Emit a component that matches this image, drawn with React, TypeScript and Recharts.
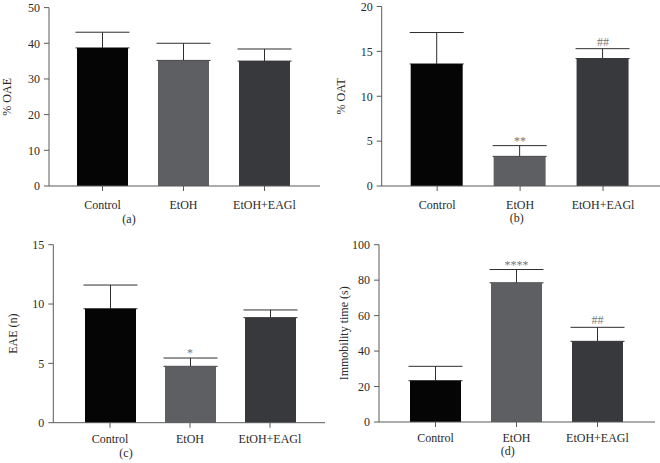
import React from "react";
import { BarChart, Bar, XAxis, YAxis, Cell, ErrorBar, ReferenceDot } from "recharts";

const groups = ["Control", "EtOH", "EtOH+EAGl"];
const barColors = ["#050505", "#5e5f63", "#38393c"];

// (a) % OAE
const oae = [38.7, 35.2, 35.0];
const oaeErr = [4.4, 4.8, 3.4];
const oaeSig = ["", "", ""];
const oaeTicks = [0, 10, 20, 30, 40, 50];

// (b) % OAT
const oat = [13.6, 3.3, 14.2];
const oatErr = [3.5, 1.2, 1.1];
const oatSig = ["", "**", "##"];
const oatTicks = [0, 5, 10, 15, 20];

// (c) EAE (n)
const eae = [9.6, 4.75, 8.85];
const eaeErr = [2.0, 0.7, 0.65];
const eaeSig = ["", "*", ""];
const eaeTicks = [0, 5, 10, 15];

// (d) Immobility time (s)
const immobility = [23.3, 78.5, 45.5];
const immobilityErr = [8.1, 7.5, 7.9];
const immobilitySig = ["", "****", "##"];
const immobilityTicks = [0, 20, 40, 60, 80, 100];

const axisColor = "#5a5a5a";
const textColor = "#2a2a2a";
const font = "'Liberation Serif', 'Times New Roman', serif";

type PanelProps = {
  left: number;
  top: number;
  width: number;
  height: number;
  axisW: number;
  mTop: number;
  mRight: number;
  xAxisH: number;
  xTickMargin: number;
  pad: { left: number; right: number };
  barSize: number;
  values: number[];
  errors: number[];
  sig: string[];
  ticks: number[];
  yLabel: string;
  yLabelX: number;
};

const yLabelContent = (text: string, x: number) => (props: any) => {
  const vb = props.viewBox || {};
  const cy = (vb.y ?? 0) + (vb.height ?? 0) / 2;
  return (
    <text
      x={x}
      y={cy}
      transform={`rotate(-90 ${x} ${cy})`}
      textAnchor="middle"
      dominantBaseline="central"
      fill={textColor}
      fontSize={12}
      fontFamily={font}
    >
      {text}
    </text>
  );
};

function Panel(p: PanelProps) {
  const rows = groups.map((g, i) => ({ name: g, value: p.values[i], err: [0, p.errors[i]] }));
  const tickStyle = { fill: textColor, fontSize: 12, fontFamily: font };
  return (
    <div style={{ position: "absolute", left: p.left, top: p.top }}>
      <BarChart
        width={p.width}
        height={p.height}
        data={rows}
        margin={{ top: p.mTop, right: p.mRight, left: 0, bottom: 0 }}
        style={{ overflow: "visible" }}
      >
        <XAxis
          dataKey="name"
          height={p.xAxisH}
          padding={p.pad}
          tick={tickStyle}
          tickSize={5}
          tickMargin={p.xTickMargin}
          stroke={axisColor}
          axisLine={{ stroke: axisColor }}
          tickLine={{ stroke: axisColor }}
        />
        <YAxis
          width={p.axisW}
          domain={[p.ticks[0], p.ticks[p.ticks.length - 1]]}
          ticks={p.ticks}
          interval={0}
          tick={tickStyle}
          tickSize={5}
          tickMargin={4}
          stroke={axisColor}
          axisLine={{ stroke: axisColor }}
          tickLine={{ stroke: axisColor }}
          label={{ content: yLabelContent(p.yLabel, p.yLabelX) }}
        />
        <Bar dataKey="value" barSize={p.barSize} isAnimationActive={false}>
          {rows.map((r, i) => (
            <Cell key={r.name} fill={barColors[i]} />
          ))}
          <ErrorBar dataKey="err" width={27} stroke="#2e2e2e" strokeWidth={1} zIndex={250} isAnimationActive={false} />
        </Bar>
        {groups.map((g, i) =>
          p.sig[i] ? (
            <ReferenceDot
              key={g}
              x={g}
              y={p.values[i] + p.errors[i]}
              r={0}
              fill="none"
              stroke="none"
              label={{
                value: p.sig[i],
                position: "top",
                offset: p.sig[i].startsWith("*") ? 1 : 3,
                fill: "#777777",
                fontSize: 12,
                fontFamily: font,
              }}
            />
          ) : null
        )}
      </BarChart>
    </div>
  );
}

const Caption = ({ text, x, y }: { text: string; x: number; y: number }) => (
  <div
    style={{
      position: "absolute",
      left: x - 20,
      top: y - 8,
      width: 40,
      textAlign: "center",
      fontSize: 12,
      lineHeight: "16px",
      color: textColor,
      fontFamily: font,
    }}
  >
    {text}
  </div>
);

export default function App() {
  return (
    <div style={{ position: "absolute", left: 0, top: 0, width: 660, height: 463, background: "#fff", fontFamily: font }}>
      <Panel
        left={0} top={0} width={330} height={231}
        axisW={49} mTop={7.6} mRight={10} xAxisH={45} xTickMargin={9}
        pad={{ left: 13, right: 15 }} barSize={51}
        values={oae} errors={oaeErr} sig={oaeSig} ticks={oaeTicks}
        yLabel="% OAE" yLabelX={6.7}
      />
      <Panel
        left={330} top={0} width={330} height={231}
        axisW={51.7} mTop={6.5} mRight={0} xAxisH={45} xTickMargin={9}
        pad={{ left: 14, right: 15.5 }} barSize={52}
        values={oat} errors={oatErr} sig={oatSig} ticks={oatTicks}
        yLabel="% OAT" yLabelX={10.5}
      />
      <Panel
        left={0} top={231} width={330} height={232}
        axisW={53.3} mTop={13.7} mRight={5} xAxisH={40.3} xTickMargin={6.5}
        pad={{ left: 16.7, right: 15 }} barSize={51}
        values={eae} errors={eaeErr} sig={eaeSig} ticks={eaeTicks}
        yLabel="EAE (n)" yLabelX={13.3}
      />
      <Panel
        left={330} top={231} width={330} height={232}
        axisW={49} mTop={13.7} mRight={5} xAxisH={41} xTickMargin={6}
        pad={{ left: 16, right: 17 }} barSize={51}
        values={immobility} errors={immobilityErr} sig={immobilitySig} ticks={immobilityTicks}
        yLabel="Immobility time (s)" yLabelX={14.2}
      />
      <Caption text="(a)" x={129} y={218.5} />
      <Caption text="(b)" x={516.7} y={217.5} />
      <Caption text="(c)" x={126} y={452.5} />
      <Caption text="(d)" x={507.7} y={450.5} />
    </div>
  );
}
